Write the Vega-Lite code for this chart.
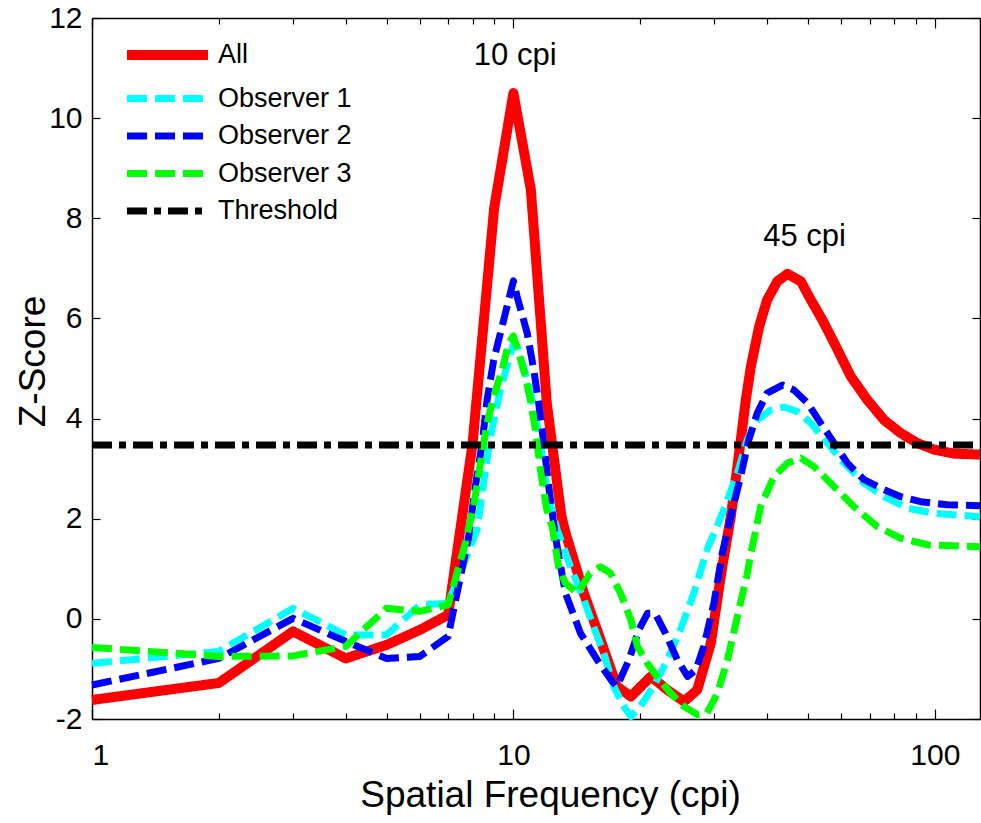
{
  "$schema": "https://vega.github.io/schema/vega-lite/v6.json",
  "width": 888,
  "height": 701,
  "autosize": {"type": "none"},
  "padding": {"left": 92, "top": 18, "right": 1, "bottom": 104},
  "background": "white",
  "config": {
    "font": "Liberation Sans",
    "view": {"stroke": null},
    "axis": {
      "domainColor": "black", "domainWidth": 1.5,
      "tickColor": "black", "tickWidth": 1.2,
      "labelColor": "black", "titleColor": "black",
      "labelFont": "Liberation Sans", "titleFont": "Liberation Sans",
      "labelFontSize": 30, "titleFontSize": 37, "titleFontWeight": "normal",
      "grid": false
    }
  },
  "datasets": {
    "curves": [
      {"series": "All", "f": 1, "z": -1.62},
      {"series": "All", "f": 2, "z": -1.28},
      {"series": "All", "f": 3, "z": -0.25},
      {"series": "All", "f": 4, "z": -0.79},
      {"series": "All", "f": 5, "z": -0.52},
      {"series": "All", "f": 6, "z": -0.22},
      {"series": "All", "f": 7, "z": 0.08},
      {"series": "All", "f": 8, "z": 3.5},
      {"series": "All", "f": 9, "z": 8.2},
      {"series": "All", "f": 10, "z": 10.5},
      {"series": "All", "f": 11, "z": 8.57},
      {"series": "All", "f": 12, "z": 4.31},
      {"series": "All", "f": 13, "z": 2.05},
      {"series": "All", "f": 13.3, "z": 1.71},
      {"series": "All", "f": 14.7, "z": 0.51},
      {"series": "All", "f": 16.1, "z": -0.42},
      {"series": "All", "f": 17.6, "z": -1.35},
      {"series": "All", "f": 19, "z": -1.55},
      {"series": "All", "f": 21.2, "z": -1.15},
      {"series": "All", "f": 23.2, "z": -1.42},
      {"series": "All", "f": 25.4, "z": -1.65},
      {"series": "All", "f": 27.3, "z": -1.42},
      {"series": "All", "f": 29.4, "z": -0.49},
      {"series": "All", "f": 31.3, "z": 1.04},
      {"series": "All", "f": 32.8, "z": 2.04},
      {"series": "All", "f": 34, "z": 3.04},
      {"series": "All", "f": 35.6, "z": 4.37},
      {"series": "All", "f": 36.6, "z": 5.04},
      {"series": "All", "f": 38.3, "z": 5.84},
      {"series": "All", "f": 40, "z": 6.37},
      {"series": "All", "f": 42.3, "z": 6.74},
      {"series": "All", "f": 44.7, "z": 6.89},
      {"series": "All", "f": 48.1, "z": 6.74},
      {"series": "All", "f": 50.8, "z": 6.37},
      {"series": "All", "f": 54.1, "z": 5.97},
      {"series": "All", "f": 57.7, "z": 5.51},
      {"series": "All", "f": 63.2, "z": 4.84},
      {"series": "All", "f": 69.2, "z": 4.37},
      {"series": "All", "f": 75.8, "z": 3.97},
      {"series": "All", "f": 83, "z": 3.71},
      {"series": "All", "f": 90.9, "z": 3.51},
      {"series": "All", "f": 99.6, "z": 3.38},
      {"series": "All", "f": 111, "z": 3.3},
      {"series": "All", "f": 128, "z": 3.28},

      {"series": "Observer 1", "f": 1, "z": -0.89},
      {"series": "Observer 1", "f": 2, "z": -0.65},
      {"series": "Observer 1", "f": 3, "z": 0.21},
      {"series": "Observer 1", "f": 4, "z": -0.32},
      {"series": "Observer 1", "f": 5, "z": -0.32},
      {"series": "Observer 1", "f": 6, "z": 0.28},
      {"series": "Observer 1", "f": 7, "z": 0.31},
      {"series": "Observer 1", "f": 8.2, "z": 1.78},
      {"series": "Observer 1", "f": 8.5, "z": 2.71},
      {"series": "Observer 1", "f": 8.82, "z": 3.64},
      {"series": "Observer 1", "f": 9.31, "z": 4.57},
      {"series": "Observer 1", "f": 10, "z": 5.5},
      {"series": "Observer 1", "f": 10.2, "z": 5.44},
      {"series": "Observer 1", "f": 10.97, "z": 4.57},
      {"series": "Observer 1", "f": 11.59, "z": 3.51},
      {"series": "Observer 1", "f": 12, "z": 2.58},
      {"series": "Observer 1", "f": 12.7, "z": 1.78},
      {"series": "Observer 1", "f": 13.14, "z": 1.44},
      {"series": "Observer 1", "f": 13.66, "z": 1.04},
      {"series": "Observer 1", "f": 14.7, "z": 0.38},
      {"series": "Observer 1", "f": 15.5, "z": -0.16},
      {"series": "Observer 1", "f": 16.4, "z": -0.69},
      {"series": "Observer 1", "f": 17.3, "z": -1.35},
      {"series": "Observer 1", "f": 18.3, "z": -1.75},
      {"series": "Observer 1", "f": 19, "z": -1.95},
      {"series": "Observer 1", "f": 20, "z": -1.75},
      {"series": "Observer 1", "f": 21.5, "z": -1.35},
      {"series": "Observer 1", "f": 23.2, "z": -0.82},
      {"series": "Observer 1", "f": 24.9, "z": -0.22},
      {"series": "Observer 1", "f": 26.8, "z": 0.51},
      {"series": "Observer 1", "f": 28.8, "z": 1.38},
      {"series": "Observer 1", "f": 31.3, "z": 2.1},
      {"series": "Observer 1", "f": 34, "z": 2.91},
      {"series": "Observer 1", "f": 35.9, "z": 3.58},
      {"series": "Observer 1", "f": 37.9, "z": 3.97},
      {"series": "Observer 1", "f": 40.8, "z": 4.17},
      {"series": "Observer 1", "f": 43.9, "z": 4.23},
      {"series": "Observer 1", "f": 47.2, "z": 4.14},
      {"series": "Observer 1", "f": 50.8, "z": 3.91},
      {"series": "Observer 1", "f": 55.6, "z": 3.51},
      {"series": "Observer 1", "f": 60.9, "z": 3.11},
      {"series": "Observer 1", "f": 67.9, "z": 2.71},
      {"series": "Observer 1", "f": 75.8, "z": 2.44},
      {"series": "Observer 1", "f": 86.1, "z": 2.21},
      {"series": "Observer 1", "f": 99.6, "z": 2.11},
      {"series": "Observer 1", "f": 128, "z": 2.04},

      {"series": "Observer 2", "f": 1, "z": -1.32},
      {"series": "Observer 2", "f": 2, "z": -0.79},
      {"series": "Observer 2", "f": 3, "z": 0.01},
      {"series": "Observer 2", "f": 4, "z": -0.45},
      {"series": "Observer 2", "f": 5, "z": -0.79},
      {"series": "Observer 2", "f": 6, "z": -0.75},
      {"series": "Observer 2", "f": 7, "z": -0.35},
      {"series": "Observer 2", "f": 7.83, "z": 1.64},
      {"series": "Observer 2", "f": 8.12, "z": 2.64},
      {"series": "Observer 2", "f": 8.43, "z": 3.51},
      {"series": "Observer 2", "f": 8.66, "z": 4.37},
      {"series": "Observer 2", "f": 8.98, "z": 5.17},
      {"series": "Observer 2", "f": 10, "z": 6.75},
      {"series": "Observer 2", "f": 10.2, "z": 6.44},
      {"series": "Observer 2", "f": 10.78, "z": 5.71},
      {"series": "Observer 2", "f": 11.18, "z": 4.97},
      {"series": "Observer 2", "f": 11.48, "z": 4.31},
      {"series": "Observer 2", "f": 11.8, "z": 3.51},
      {"series": "Observer 2", "f": 12.13, "z": 2.64},
      {"series": "Observer 2", "f": 12.58, "z": 1.64},
      {"series": "Observer 2", "f": 13.29, "z": 0.51},
      {"series": "Observer 2", "f": 14.43, "z": -0.29},
      {"series": "Observer 2", "f": 15.81, "z": -0.82},
      {"series": "Observer 2", "f": 17.16, "z": -1.25},
      {"series": "Observer 2", "f": 17.6, "z": -1.35},
      {"series": "Observer 2", "f": 18.8, "z": -0.82},
      {"series": "Observer 2", "f": 19.85, "z": -0.22},
      {"series": "Observer 2", "f": 20.8, "z": 0.11},
      {"series": "Observer 2", "f": 21.7, "z": 0.11},
      {"series": "Observer 2", "f": 22.96, "z": -0.29},
      {"series": "Observer 2", "f": 24.5, "z": -0.82},
      {"series": "Observer 2", "f": 25.9, "z": -1.15},
      {"series": "Observer 2", "f": 27.1, "z": -1.02},
      {"series": "Observer 2", "f": 28.3, "z": -0.55},
      {"series": "Observer 2", "f": 29.9, "z": 0.31},
      {"series": "Observer 2", "f": 31.3, "z": 1.31},
      {"series": "Observer 2", "f": 33.1, "z": 2.18},
      {"series": "Observer 2", "f": 34.6, "z": 2.84},
      {"series": "Observer 2", "f": 36.2, "z": 3.58},
      {"series": "Observer 2", "f": 37.9, "z": 4.11},
      {"series": "Observer 2", "f": 40, "z": 4.51},
      {"series": "Observer 2", "f": 43.5, "z": 4.67},
      {"series": "Observer 2", "f": 46.3, "z": 4.57},
      {"series": "Observer 2", "f": 49.9, "z": 4.31},
      {"series": "Observer 2", "f": 53.6, "z": 3.91},
      {"series": "Observer 2", "f": 57.7, "z": 3.51},
      {"series": "Observer 2", "f": 62, "z": 3.11},
      {"series": "Observer 2", "f": 67.9, "z": 2.78},
      {"series": "Observer 2", "f": 75.8, "z": 2.58},
      {"series": "Observer 2", "f": 83, "z": 2.44},
      {"series": "Observer 2", "f": 92.6, "z": 2.34},
      {"series": "Observer 2", "f": 107, "z": 2.28},
      {"series": "Observer 2", "f": 128, "z": 2.26},

      {"series": "Observer 3", "f": 1, "z": -0.57},
      {"series": "Observer 3", "f": 2, "z": -0.75},
      {"series": "Observer 3", "f": 3, "z": -0.74},
      {"series": "Observer 3", "f": 4, "z": -0.55},
      {"series": "Observer 3", "f": 5, "z": 0.21},
      {"series": "Observer 3", "f": 6, "z": 0.15},
      {"series": "Observer 3", "f": 7, "z": 0.28},
      {"series": "Observer 3", "f": 7.69, "z": 1.51},
      {"series": "Observer 3", "f": 8.07, "z": 2.31},
      {"series": "Observer 3", "f": 8.35, "z": 3.11},
      {"series": "Observer 3", "f": 8.66, "z": 3.91},
      {"series": "Observer 3", "f": 8.98, "z": 4.44},
      {"series": "Observer 3", "f": 9.4, "z": 4.97},
      {"series": "Observer 3", "f": 9.75, "z": 5.51},
      {"series": "Observer 3", "f": 10, "z": 5.65},
      {"series": "Observer 3", "f": 10.3, "z": 5.31},
      {"series": "Observer 3", "f": 10.68, "z": 4.84},
      {"series": "Observer 3", "f": 10.97, "z": 4.37},
      {"series": "Observer 3", "f": 11.28, "z": 3.77},
      {"series": "Observer 3", "f": 11.59, "z": 2.98},
      {"series": "Observer 3", "f": 12, "z": 2.18},
      {"series": "Observer 3", "f": 12.36, "z": 1.84},
      {"series": "Observer 3", "f": 12.8, "z": 1.04},
      {"series": "Observer 3", "f": 13.29, "z": 0.71},
      {"series": "Observer 3", "f": 14.2, "z": 0.51},
      {"series": "Observer 3", "f": 15.2, "z": 0.91},
      {"series": "Observer 3", "f": 16.1, "z": 1.04},
      {"series": "Observer 3", "f": 17, "z": 0.91},
      {"series": "Observer 3", "f": 17.96, "z": 0.51},
      {"series": "Observer 3", "f": 19, "z": -0.02},
      {"series": "Observer 3", "f": 19.7, "z": -0.55},
      {"series": "Observer 3", "f": 20.8, "z": -0.89},
      {"series": "Observer 3", "f": 21.9, "z": -1.15},
      {"series": "Observer 3", "f": 23.6, "z": -1.48},
      {"series": "Observer 3", "f": 25.4, "z": -1.75},
      {"series": "Observer 3", "f": 27.3, "z": -1.91},
      {"series": "Observer 3", "f": 28.8, "z": -1.88},
      {"series": "Observer 3", "f": 30.5, "z": -1.48},
      {"series": "Observer 3", "f": 32.2, "z": -0.82},
      {"series": "Observer 3", "f": 34, "z": 0.05},
      {"series": "Observer 3", "f": 35.9, "z": 0.91},
      {"series": "Observer 3", "f": 36.6, "z": 1.3},
      {"series": "Observer 3", "f": 38.6, "z": 2.24},
      {"series": "Observer 3", "f": 41.5, "z": 2.84},
      {"series": "Observer 3", "f": 44.7, "z": 3.11},
      {"series": "Observer 3", "f": 48.1, "z": 3.21},
      {"series": "Observer 3", "f": 51.7, "z": 3.04},
      {"series": "Observer 3", "f": 57.7, "z": 2.64},
      {"series": "Observer 3", "f": 64.3, "z": 2.24},
      {"series": "Observer 3", "f": 73.1, "z": 1.84},
      {"series": "Observer 3", "f": 83, "z": 1.61},
      {"series": "Observer 3", "f": 96.1, "z": 1.48},
      {"series": "Observer 3", "f": 128, "z": 1.44},

      {"series": "Threshold", "f": 1, "z": 3.47},
      {"series": "Threshold", "f": 128, "z": 3.47}
    ],
    "notes": [
      {"f": 10.1, "z": 11.06, "label": "10 cpi"},
      {"f": 49.1, "z": 7.44, "label": "45 cpi"}
    ]
  },
  "layer": [
    {
      "data": {"name": "curves"},
      "transform": [{"filter": "datum.series === 'All'"}],
      "mark": {"type": "line", "strokeWidth": 10, "strokeCap": "butt", "strokeJoin": "round"},
      "encoding": {
        "x": {
          "field": "f", "type": "quantitative",
          "scale": {"type": "log", "domain": [1, 128], "nice": false},
          "axis": {
            "orient": "bottom", "title": "Spatial Frequency (cpi)",
            "values": [1,2,3,4,5,6,7,8,9,10,20,30,40,50,60,70,80,90,100],
            "labelExpr": "datum.value == 1 || datum.value == 10 || datum.value == 100 ? '' + datum.value : ''",
            "tickSize": {"condition": {"test": "datum.value == 1 || datum.value == 10 || datum.value == 100", "value": -10}, "value": -6},
            "labelPadding": 31, "labelFlush": true, "labelOverlap": false,
            "titleX": 458, "titleY": 87, "titleBaseline": "alphabetic", "titleAlign": "center"
          }
        },
        "y": {
          "field": "z", "type": "quantitative",
          "scale": {"domain": [-2, 12], "nice": false, "zero": false},
          "axis": {
            "orient": "left", "title": "Z-Score",
            "values": [-2,0,2,4,6,8,10,12],
            "labelExpr": "'' + datum.value",
            "tickSize": -8, "labelPadding": 18, "labelFlush": false,
            "titleX": -48, "titleY": 343, "titleAngle": -90, "titleBaseline": "alphabetic", "titleAlign": "center"
          }
        },
        "color": {
          "field": "series", "type": "nominal",
          "scale": {"domain": ["All", "Observer 1", "Observer 2", "Observer 3", "Threshold"], "range": ["#ff0000", "#00ffff", "#0000ff", "#00ff00", "#000000"]},
          "legend": {
            "orient": "none", "legendX": 62, "legendY": 23.5, "title": null, "padding": 0,
            "symbolType": "M-3,0H3", "symbolSize": 729, "rowPadding": 8.5,
            "labelFontSize": 27, "labelFont": "Liberation Sans", "labelColor": "black", "labelOffset": 37,
            "symbolStrokeWidth": 7,
            "encode": {
              "symbols": {"update": {
                "strokeWidth": {"signal": "datum.value === 'All' ? 10 : 7"}
              }}
            }
          }
        },
        "strokeDash": {
          "field": "series", "type": "nominal",
          "scale": {"domain": ["All", "Observer 1", "Observer 2", "Observer 3", "Threshold"], "range": [[1, 0], [20, 8], [20, 8], [20, 8], [20, 7, 7, 7]]}
        }
      }
    },
    {
      "data": {"name": "curves"},
      "transform": [{"filter": "datum.series !== 'All'"}],
      "mark": {"type": "line", "strokeWidth": 7, "strokeCap": "butt", "strokeJoin": "round"},
      "encoding": {
        "x": {"field": "f", "type": "quantitative", "scale": {"type": "log", "domain": [1, 128], "nice": false}, "axis": null},
        "y": {"field": "z", "type": "quantitative", "scale": {"domain": [-2, 12], "nice": false, "zero": false}, "axis": null},
        "color": {
          "field": "series", "type": "nominal",
          "scale": {"domain": ["All", "Observer 1", "Observer 2", "Observer 3", "Threshold"], "range": ["#ff0000", "#00ffff", "#0000ff", "#00ff00", "#000000"]}
        },
        "strokeDash": {
          "field": "series", "type": "nominal",
          "scale": {"domain": ["All", "Observer 1", "Observer 2", "Observer 3", "Threshold"], "range": [[1, 0], [20, 8], [20, 8], [20, 8], [20, 7, 7, 7]]}
        }
      }
    },
    {
      "data": {"name": "notes"},
      "mark": {"type": "text", "fontSize": 31, "font": "Liberation Sans", "color": "black", "align": "center", "baseline": "alphabetic"},
      "encoding": {
        "x": {
          "field": "f", "type": "quantitative",
          "scale": {"type": "log", "domain": [1, 128], "nice": false},
          "axis": {
            "orient": "top", "title": null, "labels": false,
            "values": [1,2,3,4,5,6,7,8,9,10,20,30,40,50,60,70,80,90,100],
            "tickSize": {"condition": {"test": "datum.value == 1 || datum.value == 10 || datum.value == 100", "value": -10}, "value": -6}
          }
        },
        "y": {
          "field": "z", "type": "quantitative",
          "scale": {"domain": [-2, 12], "nice": false, "zero": false},
          "axis": {"orient": "right", "title": null, "labels": false, "values": [-2,0,2,4,6,8,10,12], "tickSize": -8}
        },
        "text": {"field": "label", "type": "nominal"}
      }
    }
  ],
  "resolve": {"axis": {"x": "independent", "y": "independent"}}
}
